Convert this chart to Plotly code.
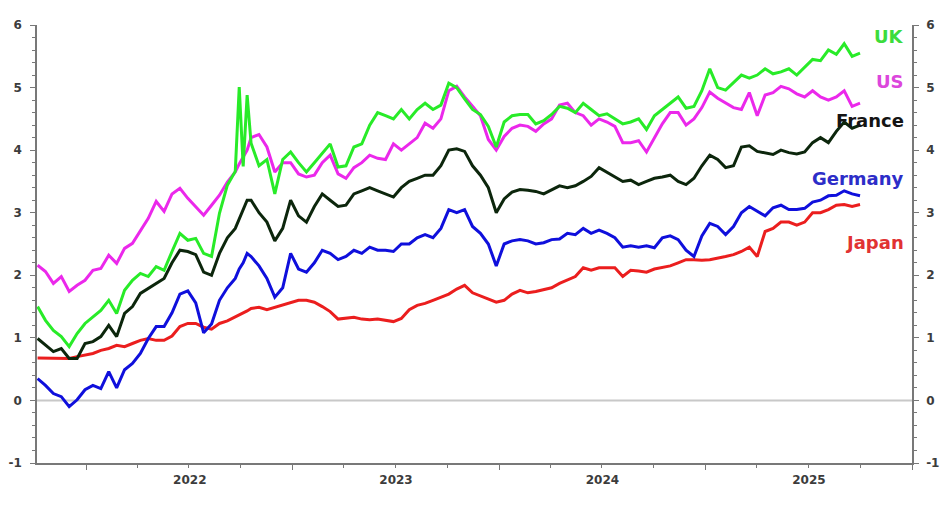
import pandas as pd
import plotly.graph_objects as go

# fortnightly observations, plus two extra days around the gilt crisis
dates = pd.date_range("2021-10-06", periods=105, freq="14D").tolist()
extra_dates = [pd.Timestamp("2022-09-28"), pd.Timestamp("2022-10-12")]
dates = sorted(dates + extra_dates)

y_tick_vals = [-1, 0, 1, 2, 3, 4, 5, 6]
y_tick_text = ['-1', '0', '1', '2', '3', '4', '5', '6']

uk = [1.50, 1.28, 1.12, 1.02, 0.86, 1.07, 1.23, 1.34, 1.44, 1.60,
      1.39, 1.76, 1.92, 2.03, 1.98, 2.14, 2.08, 2.38, 2.67, 2.56,
      2.59, 2.35, 2.30, 2.99, 3.44, 3.66, 5.01, 3.74, 4.88, 4.11, 3.75, 3.85,
      3.30, 3.85, 3.97, 3.80, 3.65, 3.80, 3.95, 4.10, 3.73, 3.75,
      4.05, 4.10, 4.40, 4.60, 4.55, 4.50, 4.65, 4.50, 4.65, 4.75,
      4.65, 4.72, 5.07, 5.00, 4.82, 4.65, 4.57, 4.38, 4.05, 4.45,
      4.55, 4.57, 4.57, 4.42, 4.47, 4.57, 4.70, 4.67, 4.60, 4.75,
      4.65, 4.55, 4.58, 4.50, 4.42, 4.45, 4.50, 4.33, 4.55, 4.65,
      4.75, 4.85, 4.67, 4.70, 4.95, 5.30, 5.00, 4.96, 5.08, 5.20,
      5.15, 5.20, 5.30, 5.22, 5.25, 5.30, 5.20, 5.33, 5.45, 5.43,
      5.60, 5.53, 5.70, 5.50, 5.55]

us = [2.16, 2.06, 1.87, 1.98, 1.74, 1.84, 1.92, 2.08, 2.11, 2.32,
      2.19, 2.43, 2.51, 2.72, 2.91, 3.18, 3.02, 3.30, 3.39, 3.23,
      3.10, 2.96, 3.12, 3.28, 3.49, 3.65, 3.78, 3.89, 4.00, 4.20, 4.25, 4.05,
      3.65, 3.80, 3.80, 3.62, 3.57, 3.60, 3.80, 3.92, 3.62, 3.55,
      3.72, 3.80, 3.92, 3.87, 3.85, 4.10, 4.00, 4.10, 4.20, 4.43,
      4.35, 4.50, 4.95, 5.02, 4.85, 4.70, 4.55, 4.17, 4.00, 4.22,
      4.35, 4.40, 4.38, 4.30, 4.42, 4.50, 4.72, 4.75, 4.60, 4.55,
      4.40, 4.50, 4.45, 4.38, 4.12, 4.12, 4.15, 3.97, 4.20, 4.42,
      4.60, 4.60, 4.40, 4.50, 4.68, 4.93, 4.83, 4.75, 4.68, 4.65,
      4.92, 4.55, 4.88, 4.92, 5.02, 4.98, 4.90, 4.85, 4.95, 4.85,
      4.80, 4.85, 4.95, 4.70, 4.75]

france = [0.99, 0.88, 0.78, 0.83, 0.67, 0.67, 0.91, 0.94, 1.02, 1.20,
          1.02, 1.39, 1.50, 1.71, 1.79, 1.87, 1.95, 2.20, 2.40, 2.38,
          2.33, 2.05, 2.00, 2.35, 2.60, 2.75, 2.90, 3.05, 3.20, 3.20, 3.00, 2.85,
          2.55, 2.75, 3.20, 2.95, 2.85, 3.10, 3.30, 3.20, 3.10, 3.12,
          3.30, 3.35, 3.40, 3.35, 3.30, 3.25, 3.40, 3.50, 3.55, 3.60,
          3.60, 3.75, 4.00, 4.02, 3.98, 3.75, 3.60, 3.40, 3.00, 3.22,
          3.33, 3.37, 3.36, 3.34, 3.30, 3.36, 3.43, 3.40, 3.43, 3.50,
          3.58, 3.72, 3.65, 3.57, 3.50, 3.52, 3.45, 3.50, 3.55, 3.57,
          3.60, 3.50, 3.45, 3.55, 3.75, 3.92, 3.85, 3.72, 3.75, 4.05,
          4.07, 3.98, 3.95, 3.93, 4.00, 3.96, 3.94, 3.97, 4.12, 4.20,
          4.12, 4.30, 4.45, 4.35, 4.40]

germany = [0.35, 0.24, 0.11, 0.06, -0.10, 0.01, 0.17, 0.24, 0.19, 0.46,
           0.20, 0.49, 0.59, 0.75, 0.99, 1.18, 1.18, 1.40, 1.70, 1.75,
           1.56, 1.08, 1.22, 1.60, 1.80, 1.95, 2.10, 2.20, 2.35, 2.30, 2.15, 1.95,
           1.65, 1.80, 2.35, 2.10, 2.05, 2.20, 2.40, 2.35, 2.25, 2.30,
           2.40, 2.35, 2.45, 2.40, 2.40, 2.38, 2.50, 2.50, 2.60, 2.65,
           2.60, 2.75, 3.05, 3.00, 3.05, 2.78, 2.67, 2.50, 2.15, 2.50,
           2.55, 2.57, 2.55, 2.50, 2.52, 2.57, 2.58, 2.67, 2.65, 2.75,
           2.67, 2.72, 2.67, 2.60, 2.45, 2.47, 2.45, 2.47, 2.44, 2.60,
           2.63, 2.57, 2.40, 2.30, 2.63, 2.83, 2.78, 2.65, 2.78, 3.00,
           3.10, 3.02, 2.95, 3.08, 3.12, 3.05, 3.05, 3.07, 3.17, 3.20,
           3.27, 3.28, 3.35, 3.30, 3.27]

japan = [0.68, 0.68, 0.67, 0.68, 0.67, 0.70, 0.72, 0.75, 0.80, 0.83,
         0.88, 0.86, 0.91, 0.96, 0.99, 0.96, 0.96, 1.03, 1.18, 1.23,
         1.23, 1.17, 1.14, 1.23, 1.27, 1.33, 1.37, 1.40, 1.43, 1.47, 1.49, 1.45,
         1.49, 1.53, 1.56, 1.60, 1.60, 1.57, 1.50, 1.42, 1.30, 1.32,
         1.33, 1.30, 1.29, 1.30, 1.28, 1.26, 1.31, 1.45, 1.52, 1.55,
         1.60, 1.65, 1.70, 1.78, 1.84, 1.72, 1.67, 1.62, 1.57, 1.60,
         1.70, 1.76, 1.72, 1.74, 1.77, 1.80, 1.87, 1.93, 1.98, 2.12,
         2.08, 2.12, 2.12, 2.12, 1.98, 2.08, 2.07, 2.05, 2.10, 2.13,
         2.15, 2.20, 2.25, 2.25, 2.24, 2.25, 2.27, 2.30, 2.33, 2.38,
         2.45, 2.30, 2.70, 2.75, 2.85, 2.85, 2.80, 2.85, 3.00, 3.00,
         3.05, 3.12, 3.13, 3.10, 3.13]

series = {'Japan': japan, 'Germany': germany, 'France': france, 'US': us, 'UK': uk}
line_colors = {'UK': 'rgb(40,235,40)', 'US': 'rgb(235,40,235)', 'France': 'rgb(12,38,12)',
               'Germany': 'rgb(15,15,220)', 'Japan': 'rgb(235,30,30)'}
label_colors = {'UK': 'rgb(60,220,60)', 'US': 'rgb(220,70,220)', 'France': 'rgb(20,20,20)',
                'Germany': 'rgb(45,45,200)', 'Japan': 'rgb(225,50,50)'}
label_y = {'UK': 5.82, 'US': 5.09, 'France': 4.48, 'Germany': 3.54, 'Japan': 2.53}

fig = go.Figure()

for name in series:
    fig.add_trace(go.Scatter(x=dates, y=series[name], mode='lines', name=name,
                             line=dict(color=line_colors[name], width=3)))

for name in series:
    fig.add_annotation(x=0.993, xref='paper', y=label_y[name], yref='y',
                       xanchor='right', yanchor='middle', showarrow=False,
                       text=name, font=dict(family='DejaVu Sans', size=18,
                                            color=label_colors[name], weight='bold'))

tick_font = dict(family='DejaVu Sans', size=12, color='rgb(60,60,60)', weight='bold')
axis_color = 'rgb(120,120,120)'
y_common = dict(range=[-1, 6], tickmode='array', tickvals=y_tick_vals, ticktext=y_tick_text,
                showgrid=False, zeroline=False, automargin=False,
                showline=True, linecolor=axis_color, linewidth=1.5,
                ticks='outside', ticklen=5, tickcolor=axis_color,
                tickfont=tick_font,
                minor=dict(dtick=0.2, ticks='outside', ticklen=3, tickcolor=axis_color))

# page body has an 8px margin, so the figure is sized to fit inside the window
fig.update_layout(
    width=933, height=492,
    margin=dict(l=29, r=29, t=17, b=37),
    paper_bgcolor='white', plot_bgcolor='white',
    showlegend=False,
    xaxis=dict(range=['2021-10-05', '2026-01-01'], type='date', automargin=False,
               dtick='M12', tick0='2022-01-01', tickformat='%Y', ticklabelmode='period',
               showgrid=False, zeroline=False, showline=True,
               linecolor=axis_color, linewidth=1.5,
               ticks='outside', ticklen=5, tickcolor=axis_color, tickfont=tick_font,
               minor=dict(dtick='M3', ticks='outside', ticklen=3, tickcolor=axis_color)),
    yaxis=dict(y_common, ticklabelstandoff=6),
    yaxis2=dict(y_common, overlaying='y', side='right', matches='y', ticklabelstandoff=5),
)

# light zero line across the plot
fig.add_hline(y=0, line=dict(color='rgb(200,200,200)', width=2), layer='below')

# dummy trace so the right axis is drawn
fig.add_trace(go.Scatter(x=[dates[0]], y=[0], yaxis='y2', mode='lines',
                         line=dict(width=0), hoverinfo='skip', showlegend=False))

fig.write_html("out.html")
